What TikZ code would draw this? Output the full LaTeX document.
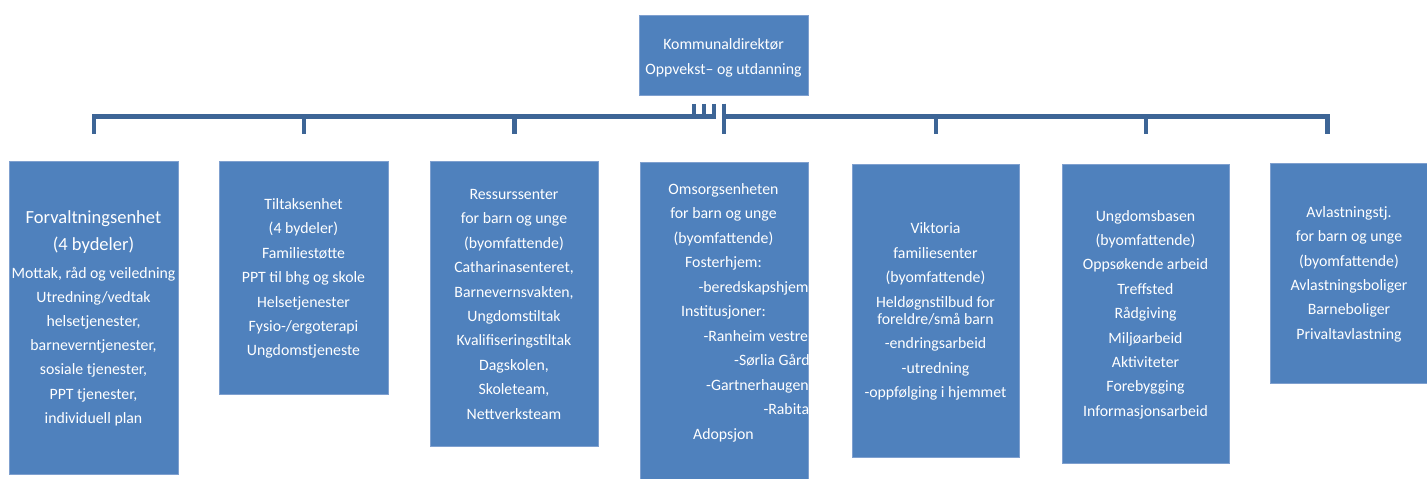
\documentclass[tikz,border=0pt]{standalone}
\usepackage{fontspec}
\setmainfont{Carlito}
\definecolor{unitblue}{HTML}{4F81BD}
\definecolor{unitedge}{HTML}{7FA0CF}
\definecolor{linkblue}{HTML}{3D6596}
\begin{document}
\begin{tikzpicture}[x=1pt,y=-1pt,
  unit/.style={fill=unitblue,draw=unitedge,line width=0.8pt,inner sep=0pt,anchor=north west},
  link/.style={draw=linkblue,line width=4.8pt},
  txt/.style={font=\fontsize{15.8}{19}\selectfont,text=white,inner sep=0pt,anchor=base},
  big/.style={txt,font=\fontsize{18.5}{22}\selectfont}]
\useasboundingbox (0,0) rectangle (1427,479);

% unit boxes
\node[unit,minimum width=169pt,minimum height=80pt]  (top) at (639,15) {};
\node[unit,minimum width=169pt,minimum height=313pt] (c1) at (9,161) {};
\node[unit,minimum width=169pt,minimum height=233pt] (c2) at (219,161) {};
\node[unit,minimum width=168pt,minimum height=285pt] (c3) at (430,161) {};
\node[unit,minimum width=168pt,minimum height=330pt] (c4) at (640,162) {};
\node[unit,minimum width=167pt,minimum height=293pt] (c5) at (852,164) {};
\node[unit,minimum width=167pt,minimum height=299pt] (c6) at (1062,164) {};
\node[unit,minimum width=160pt,minimum height=220pt] (c7) at (1270,163) {};

% connector levels and stubs below the director box
\coordinate (bus)  at (0,116.5);
\coordinate (drop) at (0,134);
\coordinate (s1) at ([xshift=-30pt,yshift=-8pt]top.south);
\coordinate (s2) at ([xshift=-20pt,yshift=-8pt]top.south);
\coordinate (s3) at ([xshift=-10pt,yshift=-8pt]top.south);
\coordinate (s4) at ([yshift=-8pt]top.south);
\coordinate (c7in) at ([xshift=-23pt]c7.north);

\draw[link] (s1) -- (s1 |- bus) -- (c1.north |- bus) -- (c1.north |- drop);
\draw[link] (s2) -- (s2 |- bus) -- (c2.north |- bus) -- (c2.north |- drop);
\draw[link] (s3) -- (s3 |- bus) -- (c3.north |- bus) -- (c3.north |- drop);
\draw[link] (s4) -- (s4 |- drop);
\draw[link] (s4) -- (s4 |- bus) -- (c5.north |- bus) -- (c5.north |- drop);
\draw[link] (s4) -- (s4 |- bus) -- (c6.north |- bus) -- (c6.north |- drop);
\draw[link] (s4) -- (s4 |- bus) -- (c7in |- bus) -- (c7in |- drop);

% director
\node[txt] (t-0) at (723.5,49.5) {Kommunaldirektør};
\node[txt] (t-1) at (723.5,74) {Oppvekst– og utdanning};

% Forvaltningsenhet
\node[big] (f-a) at (93.5,223) {Forvaltningsenhet};
\node[big] (f-b) at (93.5,250) {(4 bydeler)};
\foreach \t [count=\i from 0] in {{Mottak, råd og veiledning},{Utredning/vedtak},{helsetjenester,},{barneverntjenester,},{sosiale tjenester,},{PPT tjenester,},{individuell plan}}
  \node[txt] (f-\i) at (93.5,278+24.2*\i) {\t};

% Tiltaksenhet
\foreach \t [count=\i from 0] in {Tiltaksenhet,{(4 bydeler)},Familiestøtte,{PPT til bhg og skole},Helsetjenester,{Fysio-/ergoterapi},Ungdomstjeneste}
  \node[txt] (g-\i) at (303.5,209.5+24.4*\i) {\t};

% Ressurssenter
\foreach \t [count=\i from 0] in {Ressurssenter,{for barn og unge},{(byomfattende)},{Catharinasenteret,},{Barnevernsvakten,},Ungdomstiltak,Kvalifiseringstiltak,{Dagskolen,},{Skoleteam,},Nettverksteam}
  \node[txt] (r-\i) at (514,199.3+24.44*\i) {\t};

% Omsorgsenheten (indented lines run past the box edge)
\begin{scope}
  \clip (c4.north west) rectangle (c4.south east);
  \foreach \xx/\an/\t [count=\i from 0] in {723.5/base/Omsorgsenheten,723.5/base/{for barn og unge},723.5/base/{(byomfattende)},723.5/base/{Fosterhjem:},698.3/base west/{-beredskapshjem},723.5/base/{Institusjoner:},703.3/base west/{-Ranheim vestre},734/base west/{-Sørlia Gård},706/base west/{-Gartnerhaugen},763.3/base west/{-Rabita},723.5/base/Adopsjon}
    \node[txt,anchor=\an] (o-\i) at (\xx,194.3+24.47*\i) {\t};
\end{scope}

% Viktoria familiesenter
\foreach \yy/\t [count=\i from 0] in {233.3/Viktoria,258.3/familiesenter,282.7/{(byomfattende)},307.3/{Heldøgnstilbud for},324/{foreldre/små barn},348.3/{-endringsarbeid},373.3/{-utredning},397.7/{-oppfølging i hjemmet}}
  \node[txt] (v-\i) at (935.5,\yy) {\t};

% Ungdomsbasen
\foreach \t [count=\i from 0] in {Ungdomsbasen,{(byomfattende)},{Oppsøkende arbeid},Treffsted,Rådgiving,Miljøarbeid,Aktiviteter,Forebygging,Informasjonsarbeid}
  \node[txt] (u-\i) at (1145.5,221+24.4*\i) {\t};

% Avlastning
\foreach \t [count=\i from 0] in {Avlastningstj.,{for barn og unge},{(byomfattende)},Avlastningsboliger,Barneboliger,Privaltavlastning}
  \node[txt] (a-\i) at (1349,217.3+24.4*\i) {\t};
\end{tikzpicture}
\end{document}
